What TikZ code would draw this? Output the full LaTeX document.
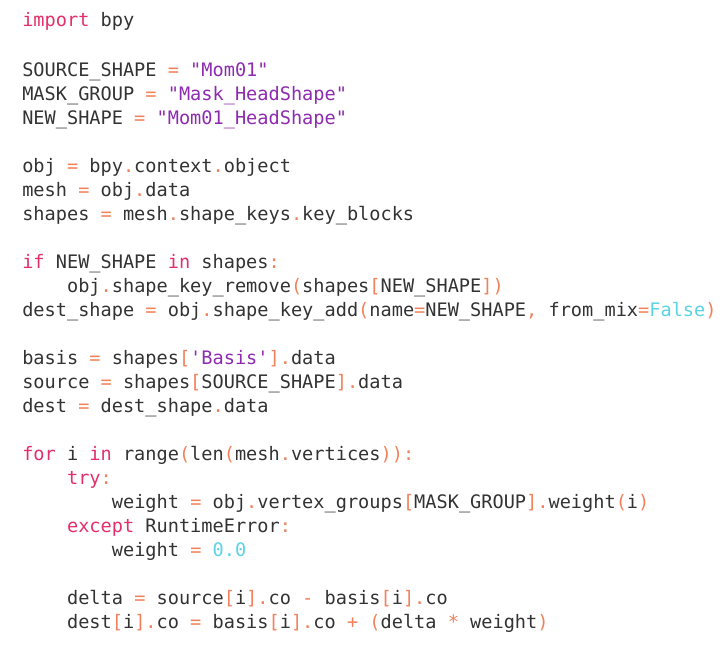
\documentclass[tikz,border=0pt]{standalone}
\usepackage{fontspec}
\setmonofont{DejaVu Sans Mono}
\definecolor{kwcol}{HTML}{E3306A}
\definecolor{opcol}{HTML}{F2805A}
\definecolor{strcol}{HTML}{8E2BB0}
\definecolor{numcol}{HTML}{5AD3E3}
\definecolor{txtcol}{HTML}{333333}
\newcommand{\kw}[1]{\textcolor{kwcol}{#1}}
\newcommand{\op}[1]{\textcolor{opcol}{#1}}
\newcommand{\str}[1]{\textcolor{strcol}{#1}}
\newcommand{\num}[1]{\textcolor{numcol}{#1}}
\newcommand{\ind}{\hspace*{33.6pt}}

\begin{document}
\begin{tikzpicture}[x=0.75pt, y=-0.75pt, inner sep=0pt]
	\tikzset{code/.style={anchor=base west, text=txtcol, font=\ttfamily\fontsize{13.95pt}{16pt}\selectfont}}
	\useasboundingbox (0, 0) rectangle (727, 667);
		\node[code] (l1) at (22, 27) {\kw{import} bpy};
		\node[code] (l2) at (22, 76) {SOURCE\_SHAPE \op{=} \str{"Mom01"}};
		\node[code] (l3) at (22, 100) {MASK\_GROUP \op{=} \str{"Mask\_HeadShape"}};
		\node[code] (l4) at (22, 124) {NEW\_SHAPE \op{=} \str{"Mom01\_HeadShape"}};
		\node[code] (l5) at (22, 172) {obj \op{=} bpy\op{.}context\op{.}object};
		\node[code] (l6) at (22, 196) {mesh \op{=} obj\op{.}data};
		\node[code] (l7) at (22, 220) {shapes \op{=} mesh\op{.}shape\_keys\op{.}key\_blocks};
		\node[code] (l8) at (22, 268) {\kw{if} NEW\_SHAPE \kw{in} shapes\op{:}};
		\node[code] (l9) at (22, 292) {\ind obj\op{.}shape\_key\_remove\op{(}shapes\op{[}NEW\_SHAPE\op{])}};
		\node[code] (l10) at (22, 316) {dest\_shape \op{=} obj\op{.}shape\_key\_add\op{(}name\op{=}NEW\_SHAPE\op{,} from\_mix\op{=}\num{False}\op{)}};
		\node[code] (l11) at (22, 364) {basis \op{=} shapes\op{[}\str{'Basis'}\op{].}data};
		\node[code] (l12) at (22, 388) {source \op{=} shapes\op{[}SOURCE\_SHAPE\op{].}data};
		\node[code] (l13) at (22, 412) {dest \op{=} dest\_shape\op{.}data};
		\node[code] (l14) at (22, 460) {\kw{for} i \kw{in} range\op{(}len\op{(}mesh\op{.}vertices\op{)):}};
		\node[code] (l15) at (22, 484) {\ind\kw{try}\op{:}};
		\node[code] (l16) at (22, 508) {\ind\ind weight \op{=} obj\op{.}vertex\_groups\op{[}MASK\_GROUP\op{].}weight\op{(}i\op{)}};
		\node[code] (l17) at (22, 532) {\ind\kw{except} RuntimeError\op{:}};
		\node[code] (l18) at (22, 556) {\ind\ind weight \op{=} \num{0.0}};
		\node[code] (l19) at (22, 604) {\ind delta \op{=} source\op{[}i\op{].}co \op{-} basis\op{[}i\op{].}co};
		\node[code] (l20) at (22, 628) {\ind dest\op{[}i\op{].}co \op{=} basis\op{[}i\op{].}co \op{+} \op{(}delta \op{*} weight\op{)}};
	\end{tikzpicture}
\end{document}
